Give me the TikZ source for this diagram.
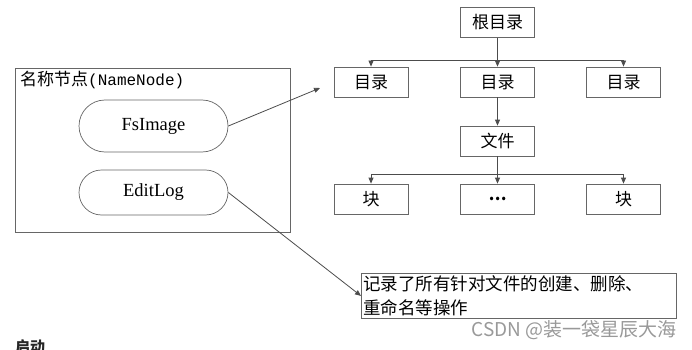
\documentclass[tikz,border=0pt]{standalone}
\usepackage{fontspec}
\setmainfont{Liberation Serif}
\newfontfamily\cjk{Noto Sans CJK SC}
\newfontfamily\monof{Liberation Mono}
\usetikzlibrary{arrows.meta,shapes.misc}
\begin{document}
\begin{tikzpicture}[x=1pt,y=-1pt,
  line/.style={draw=black!70, line width=0.8pt},
  arr/.style={line, -{Triangle[length=6pt,width=5pt]}},
  treebox/.style={draw=black!60, line width=0.8pt, minimum width=74pt, minimum height=30pt, inner sep=0pt, font=\cjk\fontsize{17}{20}\selectfont},
  pill/.style={draw=black!60, line width=0.7pt, rounded rectangle, minimum width=149pt, inner sep=0pt, font=\fontsize{18.5}{22}\selectfont},
]
\useasboundingbox (0,0) rectangle (692,350);
% NameNode frame
\node[draw=black!60, line width=0.8pt, anchor=north west, minimum width=275pt, minimum height=164pt, inner sep=0pt] (nn) at (15,68) {};
\node[anchor=north west, inner sep=0pt] (nnlabel) at (20,71) {{\cjk\fontsize{17}{20}\selectfont 名称节点}{\monof\fontsize{16}{20}\selectfont (NameNode)}};
\node[pill, minimum height=52pt] (fs) at (153.5,126) {FsImage};
\node[pill, minimum height=45pt] (el) at (153.5,192.5) {EditLog};
% tree
\node[treebox] (root) at (497.5,22.5) {根目录};
\node[treebox] (d1) at (371,82) {目录};
\node[treebox] (d2) at (497.5,82) {目录};
\node[treebox] (d3) at (623.5,82) {目录};
\node[treebox] (file) at (497.5,141) {文件};
\node[treebox] (b1) at (371,199) {块};
\node[treebox, font=\cjk\bfseries\fontsize{16}{20}\selectfont] (b2) at (497.5,199) {…};
\node[treebox] (b3) at (623.5,199) {块};
\coordinate (busA) at (497.5,60);
\coordinate (busB) at (497.5,174);
\draw[arr] (root.south) -- (d2.north);
\draw[arr] (busA) -| (d1.north);
\draw[arr] (busA) -| (d3.north);
\draw[arr] (d2.south) -- (file.north);
\draw[arr] (file.south) -- (b2.north);
\draw[arr] (busB) -| (b1.north);
\draw[arr] (busB) -| (b3.north);
% description
\node[draw=black!60, line width=0.8pt, anchor=north west, inner xsep=2pt, inner ysep=1pt, minimum width=315pt, minimum height=45pt, text width=311pt, align=left, font=\cjk\fontsize{17.5}{24}\selectfont] (desc) at (361,273) {记录了所有针对文件的创建、删除、\\重命名等操作};
\coordinate (fsend) at (320,88);
\draw[arr] (fs.east) -- (fsend);
\draw[arr] (el.east) -- (desc.west);
% watermark and cut-off heading
\node[anchor=north east, inner sep=0pt, text=black!40, font=\cjk\fontsize{19}{22}\selectfont] (wm) at (677,320) {CSDN @装一袋星辰大海};
\node[anchor=north west, inner sep=0pt, text=black!85, font=\cjk\bfseries\fontsize{15}{18}\selectfont] (start) at (15,339) {启动};
\end{tikzpicture}
\end{document}
